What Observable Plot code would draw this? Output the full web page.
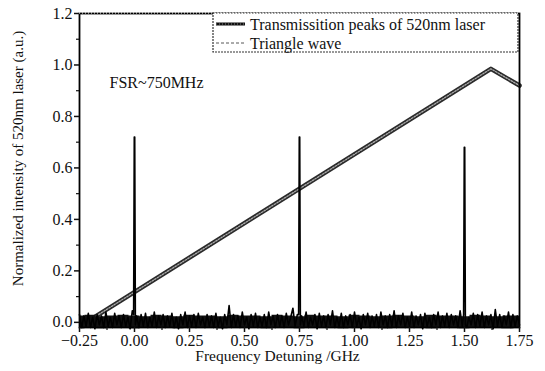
<!DOCTYPE html>
<html><head><meta charset="utf-8">
<script src="https://cdn.jsdelivr.net/npm/d3@7"></script>
<script src="https://cdn.jsdelivr.net/npm/@observablehq/plot@0.6"></script>
<style>
body{margin:0;background:#fff;}
#chart{width:545px;height:371px;}
#chart svg, #chart svg text{font-family:"Liberation Serif","DejaVu Serif",serif !important;}
</style></head><body><div id="chart"></div>
<script>
// ---- data ----
const xTicks = [-0.25, 0, 0.25, 0.5, 0.75, 1.0, 1.25, 1.5, 1.75];
const xMinor = [-0.125, 0.125, 0.375, 0.625, 0.875, 1.125, 1.375, 1.625];
const yTicks = [0, 0.2, 0.4, 0.6, 0.8, 1.0, 1.2];
const yMinor = [0.1, 0.3, 0.5, 0.7, 0.9, 1.1];

// triangle wave vertices (GHz, a.u.)
const triX = [-0.22, 1.62, 1.75];
const triY = [0.0, 0.985, 0.92];

// transmission peaks
const peakX = [0.0, 0.75, 1.5];
const peakY = [0.72, 0.72, 0.68];

// baseline noise of transmission signal, sampled every 0.01 GHz from -0.25
const noiseStart = -0.25, noiseStep = 0.01;
const noise = [
 0.03,-0.02,0.025,-0.015,0.035,-0.02,0.02,-0.025,0.03,-0.01,
 0.025,-0.02,0.04,-0.015,0.02,-0.02,0.035,-0.01,0.025,-0.02,
 0.03,-0.015,0.02,-0.025,0.045,-0.01,0.025,-0.02,0.03,-0.015,
 0.035,-0.02,0.02,-0.015,0.04,-0.02,0.025,-0.01,0.03,-0.02,
 0.025,-0.015,0.035,-0.02,0.02,-0.025,0.03,-0.01,0.04,-0.02,
 0.025,-0.015,0.03,-0.02,0.035,-0.01,0.02,-0.02,0.03,-0.015,
 0.025,-0.02,0.035,-0.015,0.02,-0.025,0.03,-0.01,0.065,-0.02,
 0.03,-0.015,0.025,-0.02,0.04,-0.01,0.02,-0.025,0.03,-0.015,
 0.035,-0.02,0.02,-0.015,0.03,-0.02,0.04,-0.01,0.025,-0.02,
 0.03,-0.015,0.025,-0.02,0.035,-0.01,0.02,0.055,-0.015,0.03,
 -0.02,0.025,-0.015,0.04,-0.02,0.02,-0.01,0.03,-0.025,0.035,
 -0.015,0.025,-0.02,0.03,-0.01,0.045,-0.02,0.02,-0.015,0.035,
 -0.02,0.025,-0.01,0.03,-0.02,0.04,-0.015,0.02,-0.025,0.03,
 -0.01,0.035,-0.02,0.025,-0.015,0.03,-0.02,0.04,-0.01,0.025,
 -0.02,0.03,-0.015,0.045,-0.02,0.025,-0.01,0.035,-0.02,0.02,
 -0.015,0.04,-0.02,0.025,-0.01,0.03,-0.025,0.035,-0.015,0.02,
 -0.02,0.03,-0.01,0.04,-0.02,0.025,-0.015,0.035,-0.02,0.03,
 -0.01,0.025,-0.02,0.045,-0.015,0.03,-0.02,0.02,-0.01,0.035,
 -0.02,0.03,-0.015,0.04,-0.02,0.025,-0.01,0.03,-0.025,0.05,
 -0.015,0.03,-0.02,0.025,-0.01,0.04,-0.02,0.03,-0.015,0.025,
 -0.01
];

// dense core of the noise band, read every 0.05 GHz from -0.25 (low / high edges)
const bandStart = -0.25, bandStep = 0.05;
const bandLow = [
 -0.025,-0.022,-0.025,-0.02,-0.022,-0.025,-0.022,-0.02,-0.022,-0.025,
 -0.022,-0.02,-0.022,-0.025,-0.022,-0.022,-0.02,-0.025,-0.022,-0.022,
 -0.025,-0.02,-0.022,-0.022,-0.025,-0.022,-0.02,-0.022,-0.025,-0.022,
 -0.022,-0.02,-0.025,-0.022,-0.022,-0.025,-0.02,-0.022,-0.022,-0.025,-0.022
];
const bandHigh = [
 0.025,0.028,0.022,0.025,0.028,0.025,0.022,0.028,0.025,0.022,
 0.028,0.025,0.025,0.022,0.028,0.025,0.025,0.022,0.028,0.025,
 0.022,0.028,0.025,0.025,0.022,0.028,0.025,0.022,0.025,0.028,
 0.025,0.022,0.028,0.025,0.025,0.022,0.028,0.025,0.022,0.025,0.025
];

const legendLabels = ["Transmissition peaks of 520nm laser", "Triangle wave"];
const xLabel = "Frequency Detuning /GHz";
const yLabel = "Normalized intensity of 520nm laser (a.u.)";
const annotation = "FSR~750MHz";

// ---- build tables ----
const triangle = triX.map((x, i) => ({x, y: triY[i]}));
let trans = noise.map((v, i) => ({x: noiseStart + i * noiseStep, y: v}));
trans = trans.filter(d => !peakX.some(p => Math.abs(d.x - p) < 0.004));
peakX.forEach((p, k) => {
  trans.push({x: p - 0.004, y: 0.03}, {x: p - 0.001, y: peakY[k]}, {x: p + 0.001, y: peakY[k]}, {x: p + 0.004, y: -0.01});
});
trans.sort((a, b) => a.x - b.x);
const band = bandLow.map((lo, i) => ({x: bandStart + i * bandStep, lo, hi: bandHigh[i]}));

const font = "Liberation Serif, DejaVu Serif, serif";

const plot = Plot.plot({
  width: 545, height: 371,
  marginLeft: 79, marginRight: 26, marginTop: 13, marginBottom: 44,
  style: "font-family: 'Liberation Serif', serif; font-size: 16px; color: #111; background: #fff; overflow: visible;",
  x: {domain: [-0.25, 1.75]},
  y: {domain: [-0.02, 1.2]},
  marks: [
    Plot.line(triangle, {x: "x", y: "y", stroke: "#2a2a2a", strokeWidth: 4.5}),
    Plot.line(triangle, {x: "x", y: "y", stroke: "#aaa", strokeWidth: 1.3, strokeDasharray: "1.5,1.5"}),
    Plot.areaY(band, {x: "x", y1: "lo", y2: "hi", fill: "#111", curve: "step"}),
    Plot.line(trans, {x: "x", y: "y", stroke: "#000", strokeWidth: 1.6}),
    Plot.frame({stroke: "#000", strokeWidth: 1.8}),
    Plot.axisX({ticks: xTicks, tickSize: 5, tickPadding: 2, strokeWidth: 1.5, tickFormat: d3.format(".2f"), label: null, fontSize: 16, fontFamily: font}),
    Plot.axisX({ticks: xMinor, tickSize: 3, strokeWidth: 1.2, tickFormat: () => "", label: null}),
    Plot.axisY({ticks: yTicks, tickSize: 5, tickPadding: 2, strokeWidth: 1.5, tickFormat: d3.format(".1f"), label: null, fontSize: 16, fontFamily: font}),
    Plot.axisY({ticks: yMinor, tickSize: 3, strokeWidth: 1.2, tickFormat: () => "", label: null}),
    Plot.text([annotation], {frameAnchor: "top-left", dx: 30, dy: 69, textAnchor: "start", lineAnchor: "middle", fontSize: 16, fontFamily: font}),
    Plot.text([xLabel], {frameAnchor: "bottom", dx: -22, dy: 29, textAnchor: "middle", lineAnchor: "middle", fontSize: 15.5, fontFamily: font}),
    Plot.text([yLabel], {frameAnchor: "left", dx: -61, dy: -12, rotate: -90, textAnchor: "middle", lineAnchor: "middle", fontSize: 15, fontFamily: font})
  ]
});

// ---- legend box inside the frame (top-right) ----
const svg = d3.select(plot);
const lg = svg.append("g").attr("font-family", font).attr("font-size", 16).attr("text-anchor", "start");
const lx = 213, ly = 13, lw = 305, lh = 39;
lg.append("rect").attr("x", lx).attr("y", ly).attr("width", lw).attr("height", lh)
  .attr("fill", "#fff").attr("stroke", "#333").attr("stroke-width", 1.2).attr("stroke-dasharray", "2,1");
const rows = [ly + 11, ly + 30];
// row 1 sample: thick dotted-looking black line
lg.append("line").attr("x1", lx + 3).attr("x2", lx + 32).attr("y1", rows[0]).attr("y2", rows[0])
  .attr("stroke", "#111").attr("stroke-width", 3);
lg.append("line").attr("x1", lx + 3).attr("x2", lx + 32).attr("y1", rows[0]).attr("y2", rows[0])
  .attr("stroke", "#888").attr("stroke-width", 1).attr("stroke-dasharray", "1,2");
// row 2 sample: thin dashed line
lg.append("line").attr("x1", lx + 3).attr("x2", lx + 32).attr("y1", rows[1]).attr("y2", rows[1])
  .attr("stroke", "#444").attr("stroke-width", 0.9).attr("stroke-dasharray", "3,2");
legendLabels.forEach((t, i) => {
  lg.append("text").attr("x", lx + 37).attr("y", rows[i]).attr("dy", "0.35em")
    .attr("text-anchor", "start").attr("fill", "#111").text(t);
});
// dotted top edge of frame
svg.append("line").attr("x1", 79).attr("x2", 519).attr("y1", 13).attr("y2", 13)
  .attr("stroke", "#fff").attr("stroke-width", 1).attr("stroke-dasharray", "1,2");

document.getElementById("chart").appendChild(plot);
</script></body></html>
